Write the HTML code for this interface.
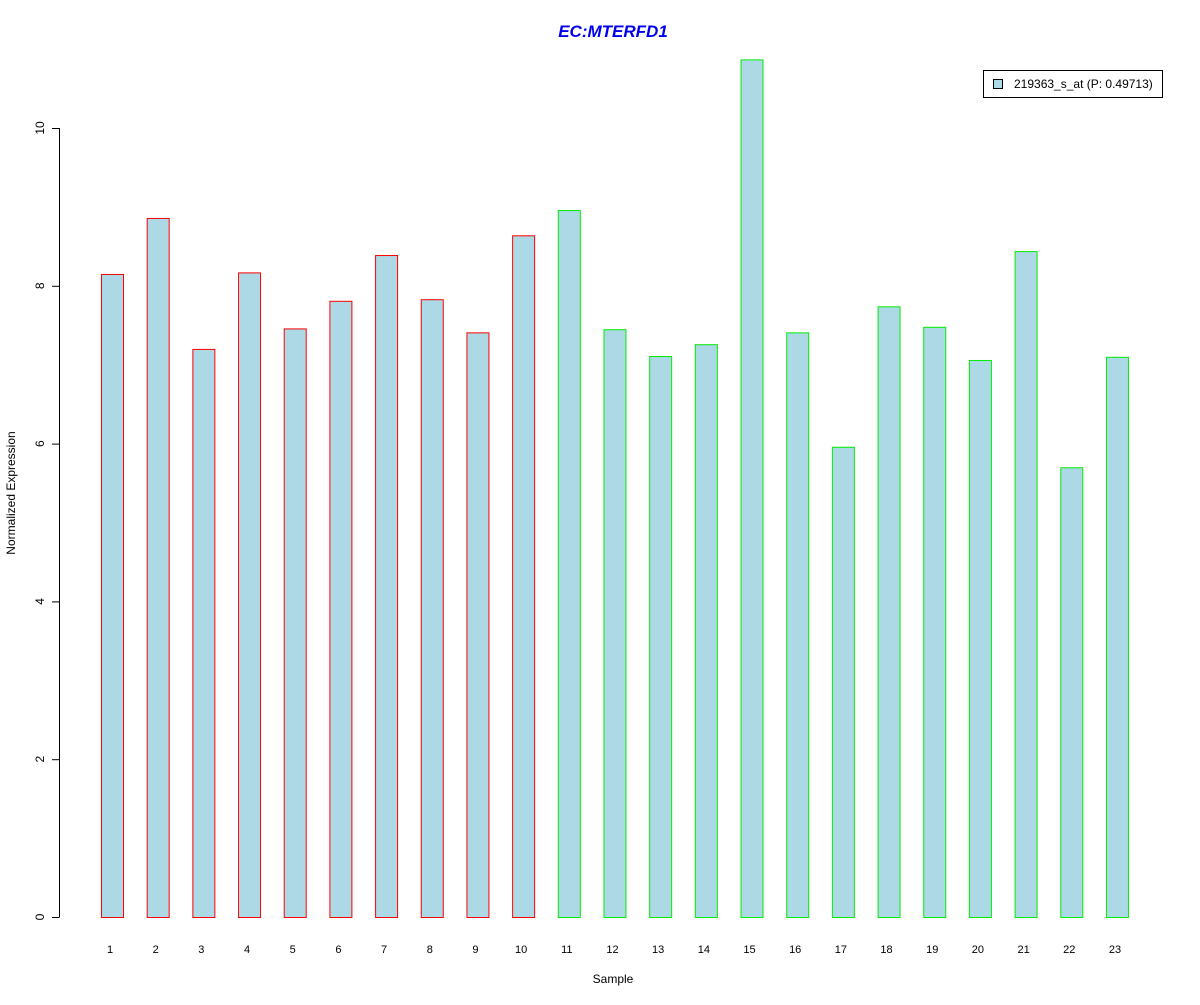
<!DOCTYPE html>
<html><head><meta charset="utf-8"><style>
body{margin:0;background:#fff;}
svg text{font-family:"Liberation Sans",sans-serif;}
</style></head><body>
<svg id="chart" width="1200" height="1000" xmlns="http://www.w3.org/2000/svg">
<rect width="1200" height="1000" fill="#fff"/>
<text x="613" y="37" text-anchor="middle" font-size="17" font-weight="bold" font-style="italic" fill="#0000ee">EC:MTERFD1</text>
<text x="613" y="983" text-anchor="middle" font-size="12">Sample</text>
<text transform="translate(15,493) rotate(-90)" text-anchor="middle" font-size="12">Normalized Expression</text>
<g id="yaxis"></g>
<g id="bars"></g>
<g id="xlabels"></g>
<g>
<rect x="983.5" y="70.5" width="179" height="27" fill="#fff" stroke="#000"/>
<rect x="993.5" y="79.5" width="9" height="9" fill="#add8e6" stroke="#000"/>
<text x="1014" y="88" font-size="12">219363_s_at (P: 0.49713)</text>
</g>
</svg>
<script>
const categories=["1","2","3","4","5","6","7","8","9","10","11","12","13","14","15","16","17","18","19","20","21","22","23"];
const values=[8.15,8.86,7.2,8.17,7.46,7.81,8.39,8.83,7.41,8.64,8.96,7.45,7.11,7.26,10.87,7.41,5.96,7.74,7.48,7.06,8.44,5.70,7.10];
const groups=["a","a","a","a","a","a","a","a","a","a","b","b","b","b","b","b","b","b","b","b","b","b","b"];
const yTicks=[0,2,4,6,8,10];
values[7]=7.83;
const NS="http://www.w3.org/2000/svg";
const y=v=>917-v*78.9;
const x=i=>112+i*45.68;
const ya=document.getElementById('yaxis');
function mk(t,a,p){const e=document.createElementNS(NS,t);for(const k in a)e.setAttribute(k,a[k]);p.appendChild(e);return e;}
mk('line',{x1:59.5,x2:59.5,y1:y(0),y2:y(10),stroke:'#000'},ya);
yTicks.forEach(t=>{
  mk('line',{x1:52,x2:59.5,y1:y(t)+0.5,y2:y(t)+0.5,stroke:'#000'},ya);
  const tx=mk('text',{transform:`translate(44,${y(t)}) rotate(-90)`,'text-anchor':'middle','font-size':12},ya);
  
  
  tx.textContent=t;
});
const bg=document.getElementById('bars'),xl=document.getElementById('xlabels');
values.forEach((v,i)=>{
  const r=mk('rect',{x:x(i)-11+0.5,y:y(v)+0.5,width:22,height:y(0)-y(v),fill:'#add8e6',stroke:groups[i]==='a'?'#ff0000':'#00ee00'},bg);
  
  
  const t=mk('text',{x:x(i)-2,y:953,'text-anchor':'middle','font-size':11},xl);
  
  
  t.textContent=categories[i];
});
</script>
</body></html>
